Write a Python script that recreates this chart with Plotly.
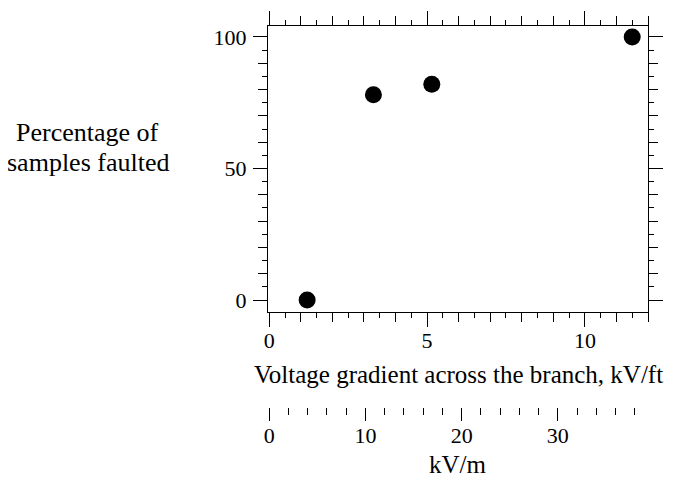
import plotly.graph_objects as go

# ---- data ----
gradient_kv_per_ft = [1.2, 3.3, 5.15, 11.5]
percent_faulted = [0, 78, 82, 100]

x_tick_vals = [0, 5, 10]
y_tick_vals = [0, 50, 100]
kvm_tick_vals = [0, 10, 20, 30]

x_title = "Voltage gradient across the branch, kV/ft"
y_title_lines = ["Percentage of", "samples faulted"]
kvm_title = "kV/m"

FT_PER_M = 3.2808
x_range = [-0.04, 12.0]
y_range = [-4.56, 104.18]
kvm_range = [v * FT_PER_M for v in x_range]

FONT = "Liberation Serif, Times New Roman, serif"
TICK_FONT = dict(family=FONT, size=22, color="black")
TITLE_FONT = dict(family=FONT, size=26, color="black")
XTITLE_FONT = dict(family=FONT, size=25, color="black")
KVM_FONT = dict(family=FONT, size=25, color="black")

fig = go.Figure()
fig.add_trace(go.Scatter(
    x=gradient_kv_per_ft, y=percent_faulted, mode="markers",
    marker=dict(color="black", size=17, line=dict(width=0)),
    showlegend=False, hoverinfo="skip"))
# helper empty traces to create the overlay tick axes
fig.add_trace(go.Scatter(x=[], y=[], xaxis="x3", yaxis="y", showlegend=False, hoverinfo="skip"))
fig.add_trace(go.Scatter(x=[], y=[], xaxis="x", yaxis="y2", showlegend=False, hoverinfo="skip"))
fig.add_trace(go.Scatter(x=[], y=[], xaxis="x2", yaxis="y", showlegend=False, hoverinfo="skip"))

ydom = [0.2493, 1.0]

fig.update_layout(
    width=660, height=473,
    margin=dict(l=260, r=20, t=18, b=74, autoexpand=False),
    paper_bgcolor="white", plot_bgcolor="white",
    font=TICK_FONT,
    xaxis=dict(
        range=x_range, showgrid=False, zeroline=False, automargin=False,
        showline=True, linecolor="black", linewidth=1, mirror="ticks",
        ticks="outside", tickvals=x_tick_vals, ticklen=14, tickwidth=1, tickcolor="black",
        tickfont=TICK_FONT, ticklabelstandoff=-5,
        minor=dict(dtick=1, tick0=0, ticks="outside", ticklen=9, tickwidth=1, tickcolor="black", showgrid=False),
        anchor="y",
    ),
    xaxis3=dict(
        range=x_range, overlaying="x", anchor="y", showgrid=False, zeroline=False, automargin=False,
        showline=False, mirror="ticks", ticks="outside", dtick=0.5, tick0=0, ticklen=5,
        tickwidth=1, tickcolor="black", showticklabels=False,
    ),
    xaxis2=dict(
        range=kvm_range, overlaying="x", anchor="free", position=0, side="bottom",
        showgrid=False, zeroline=False, showline=False, automargin=False,
        ticks="outside", tickvals=kvm_tick_vals, ticklen=13, tickwidth=1, tickcolor="black",
        tickfont=TICK_FONT, ticklabelstandoff=-4,
        minor=dict(dtick=2, tick0=0, ticks="outside", ticklen=7, tickwidth=1, tickcolor="black", showgrid=False),
    ),
    yaxis=dict(
        range=y_range, domain=ydom, showgrid=False, zeroline=False, automargin=False,
        showline=True, linecolor="black", linewidth=1, mirror="ticks",
        ticks="outside", tickvals=y_tick_vals, ticklen=14, tickwidth=1, tickcolor="black",
        tickfont=TICK_FONT, ticklabelstandoff=2,
        minor=dict(dtick=10, tick0=0, ticks="outside", ticklen=9, tickwidth=1, tickcolor="black", showgrid=False),
        anchor="x",
    ),
    yaxis2=dict(
        range=y_range, domain=ydom, overlaying="y", anchor="x", side="left", automargin=False,
        showgrid=False, zeroline=False, showline=False, mirror="ticks",
        ticks="outside", dtick=5, tick0=0, ticklen=5, tickwidth=1, tickcolor="black",
        showticklabels=False,
    ),
)

# axis titles as annotations (paper coordinates of the plotting area)
fig.add_annotation(text=x_title, xref="paper", yref="paper", x=0.5, y=0.084,
                   showarrow=False, font=XTITLE_FONT, xanchor="center", yanchor="middle")
fig.add_annotation(text=kvm_title, xref="paper", yref="paper", x=0.5, y=-0.152,
                   showarrow=False, font=KVM_FONT, xanchor="center", yanchor="middle")
for line_text, ypos in zip(y_title_lines, [0.7192, 0.643]):
    fig.add_annotation(
        text=line_text, xref="paper", yref="paper", x=-0.4737, y=ypos,
        showarrow=False, font=TITLE_FONT, align="center", xanchor="center", yanchor="middle",
    )

fig.write_html("out.html")
